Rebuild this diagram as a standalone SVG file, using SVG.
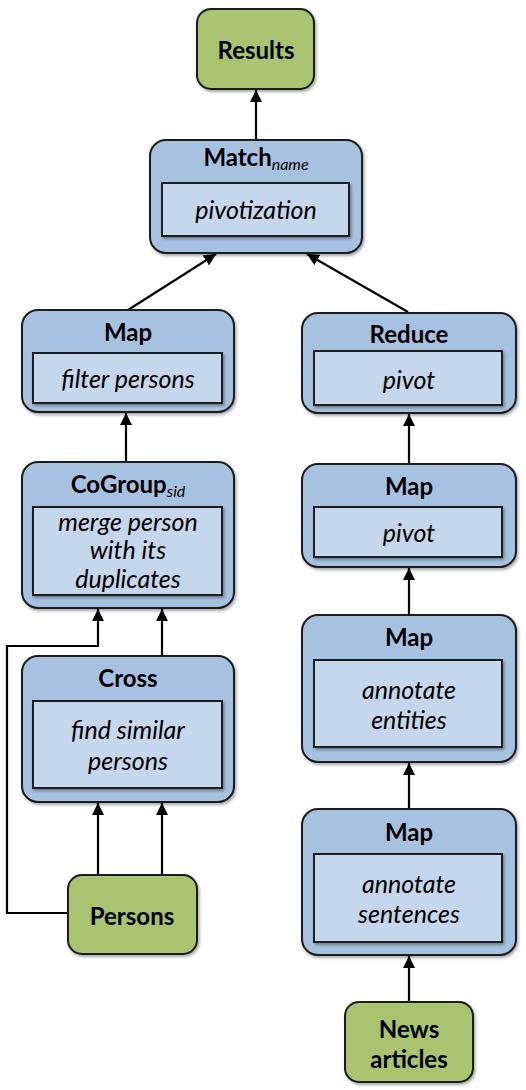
<svg xmlns="http://www.w3.org/2000/svg" width="526" height="1090" viewBox="0 0 526 1090">
<defs>
<style>
.green{fill:#a9c36e;stroke:#1a1a1a;stroke-width:2}
.outer{fill:#a7c2e0;stroke:#1a1a1a;stroke-width:2}
.inner{fill:#c5d7eb;stroke:#1a1a1a;stroke-width:2}
.title{font-family:Lato,"Open Sans","Liberation Sans",sans-serif;font-weight:bold;font-size:24px;fill:#000;text-anchor:middle}
.sub{font-weight:normal;font-style:italic;font-size:16px}
.body{font-family:Lato,"Open Sans","Liberation Sans",sans-serif;font-style:italic;font-size:25px;fill:#000;text-anchor:middle}
.edge{fill:none;stroke:#000;stroke-width:2.2}
</style>
<marker id="arr" viewBox="0 0 12 12" refX="12" refY="6" markerWidth="12" markerHeight="12" markerUnits="userSpaceOnUse" orient="auto">
<path d="M0,0 L12,6 L0,12 Z" fill="#000"/>
</marker>
<filter id="sh" x="-10%" y="-10%" width="130%" height="130%">
<feDropShadow dx="1.5" dy="2" stdDeviation="1.5" flood-color="#000" flood-opacity="0.35"/>
</filter>
</defs>
<rect width="526" height="1090" fill="#fff"/>

<g id="connectors">
<path class="edge" d="M256,140 L256,90" marker-end="url(#arr)"/>
<path class="edge" d="M128,310 L216,254" marker-end="url(#arr)"/>
<path class="edge" d="M408,312 L307,254" marker-end="url(#arr)"/>
<path class="edge" d="M126,462 L126,413" marker-end="url(#arr)"/>
<path class="edge" d="M68,913 L7,913 L7,646 L98,646 L98,609" marker-end="url(#arr)"/>
<path class="edge" d="M162,656 L162,609" marker-end="url(#arr)"/>
<path class="edge" d="M98,875 L98,803" marker-end="url(#arr)"/>
<path class="edge" d="M162,875 L162,803" marker-end="url(#arr)"/>
<path class="edge" d="M409,464 L409,414" marker-end="url(#arr)"/>
<path class="edge" d="M409,615 L409,568" marker-end="url(#arr)"/>
<path class="edge" d="M409,809 L409,763" marker-end="url(#arr)"/>
<path class="edge" d="M409,1002 L409,956" marker-end="url(#arr)"/>
</g>

<g id="results">
<rect class="green" x="197" y="9" width="117" height="80" rx="14" filter="url(#sh)"/>
<text class="title" x="256" y="59">Results</text>
</g>

<g id="match">
<rect class="outer" x="150" y="140" width="212" height="113" rx="16" filter="url(#sh)"/>
<text class="title" x="256" y="166">Match<tspan class="sub" dy="4">name</tspan></text>
<rect class="inner" x="162" y="183" width="187" height="53" filter="url(#sh)"/>
<text class="body" x="256" y="219">pivotization</text>
</g>

<g id="map-filter">
<rect class="outer" x="22" y="310" width="212" height="102" rx="16" filter="url(#sh)"/>
<text class="title" x="128" y="341">Map</text>
<rect class="inner" x="33" y="353" width="189" height="50" filter="url(#sh)"/>
<text class="body" x="128" y="388">filter persons</text>
</g>

<g id="cogroup">
<rect class="outer" x="22" y="462" width="212" height="146" rx="16" filter="url(#sh)"/>
<text class="title" x="128" y="493">CoGroup<tspan class="sub" dy="4">sid</tspan></text>
<rect class="inner" x="33" y="507" width="189" height="88" filter="url(#sh)"/>
<text class="body" x="128" y="531">merge person</text>
<text class="body" x="128" y="559">with its</text>
<text class="body" x="128" y="588">duplicates</text>
</g>

<g id="cross">
<rect class="outer" x="22" y="656" width="212" height="146" rx="16" filter="url(#sh)"/>
<text class="title" x="128" y="687">Cross</text>
<rect class="inner" x="33" y="701" width="189" height="87" filter="url(#sh)"/>
<text class="body" x="128" y="739">find similar</text>
<text class="body" x="128" y="770">persons</text>
</g>

<g id="persons">
<rect class="green" x="68" y="875" width="129" height="79" rx="14" filter="url(#sh)"/>
<text class="title" x="132" y="925">Persons</text>
</g>

<g id="reduce">
<rect class="outer" x="302" y="313" width="214" height="100" rx="16" filter="url(#sh)"/>
<text class="title" x="409" y="343">Reduce</text>
<rect class="inner" x="314" y="351" width="188" height="54" filter="url(#sh)"/>
<text class="body" x="409" y="389">pivot</text>
</g>

<g id="map-pivot">
<rect class="outer" x="302" y="464" width="214" height="103" rx="16" filter="url(#sh)"/>
<text class="title" x="409" y="495">Map</text>
<rect class="inner" x="314" y="507" width="188" height="50" filter="url(#sh)"/>
<text class="body" x="409" y="542">pivot</text>
</g>

<g id="map-entities">
<rect class="outer" x="302" y="615" width="214" height="147" rx="16" filter="url(#sh)"/>
<text class="title" x="409" y="646">Map</text>
<rect class="inner" x="314" y="660" width="188" height="87" filter="url(#sh)"/>
<text class="body" x="409" y="699">annotate</text>
<text class="body" x="409" y="729">entities</text>
</g>

<g id="map-sentences">
<rect class="outer" x="302" y="809" width="214" height="146" rx="16" filter="url(#sh)"/>
<text class="title" x="409" y="841">Map</text>
<rect class="inner" x="314" y="854" width="188" height="88" filter="url(#sh)"/>
<text class="body" x="409" y="893">annotate</text>
<text class="body" x="409" y="923">sentences</text>
</g>

<g id="news">
<rect class="green" x="345" y="1002" width="128" height="80" rx="14" filter="url(#sh)"/>
<text class="title" x="409" y="1038">News</text>
<text class="title" x="409" y="1068">articles</text>
</g>
</svg>
